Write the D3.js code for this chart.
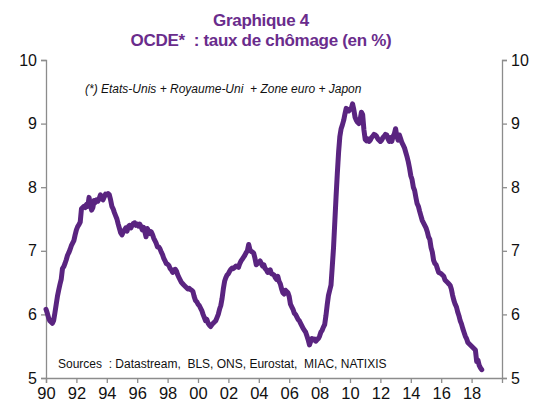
<!DOCTYPE html>
<html>
<head>
<meta charset="utf-8">
<script src="https://cdn.jsdelivr.net/npm/d3@7"></script>
<style>
  body { margin: 0; background: #fff; }
  svg text { font-family: Arial, "Liberation Sans", sans-serif; }
</style>
</head>
<body>
<svg id="chart" width="538" height="405"></svg>
<script>
// monthly OECD unemployment rate (%), Jan 1990 -> Sep 2018
var startYear = 1990;
var rate = [
  6.08, 6.02, 5.95, 5.90, 5.88, 5.86, 5.90, 6.02, 6.15, 6.28, 6.38, 6.47, // 1990
  6.55, 6.72, 6.75, 6.80, 6.86, 6.93, 6.97, 7.02, 7.08, 7.12, 7.16, 7.25, // 1991
  7.33, 7.38, 7.41, 7.45, 7.66, 7.68, 7.70, 7.68, 7.73, 7.70, 7.84, 7.72, // 1992
  7.64, 7.68, 7.79, 7.76, 7.80, 7.78, 7.82, 7.88, 7.84, 7.80, 7.85, 7.89, // 1993
  7.88, 7.90, 7.88, 7.80, 7.70, 7.66, 7.60, 7.55, 7.50, 7.42, 7.35, 7.28, // 1994
  7.25, 7.30, 7.33, 7.36, 7.31, 7.38, 7.40, 7.36, 7.40, 7.43, 7.44, 7.40, // 1995
  7.42, 7.39, 7.42, 7.38, 7.33, 7.37, 7.30, 7.22, 7.35, 7.31, 7.27, 7.30, // 1996
  7.26, 7.20, 7.16, 7.12, 7.06, 7.06, 7.03, 6.98, 6.94, 6.88, 6.84, 6.80, // 1997
  6.79, 6.77, 6.72, 6.70, 6.66, 6.70, 6.71, 6.68, 6.62, 6.58, 6.54, 6.50, // 1998
  6.48, 6.46, 6.44, 6.42, 6.40, 6.41, 6.39, 6.38, 6.36, 6.28, 6.22, 6.20, // 1999
  6.16, 6.14, 6.10, 6.06, 6.00, 5.95, 5.90, 5.92, 5.86, 5.83, 5.81, 5.84, // 2000
  5.86, 5.88, 5.90, 5.95, 6.00, 6.08, 6.14, 6.25, 6.40, 6.52, 6.58, 6.62, // 2001
  6.64, 6.68, 6.71, 6.73, 6.72, 6.74, 6.76, 6.75, 6.74, 6.80, 6.84, 6.87, // 2002
  6.90, 6.93, 6.97, 7.00, 7.10, 7.02, 6.99, 6.98, 6.96, 6.88, 6.78, 6.80, // 2003
  6.82, 6.84, 6.80, 6.76, 6.78, 6.72, 6.70, 6.66, 6.68, 6.70, 6.64, 6.63, // 2004
  6.62, 6.58, 6.55, 6.60, 6.52, 6.48, 6.40, 6.34, 6.32, 6.38, 6.36, 6.34, // 2005
  6.28, 6.16, 6.12, 6.08, 6.02, 6.00, 5.96, 5.92, 5.90, 5.86, 5.82, 5.78, // 2006
  5.75, 5.72, 5.66, 5.60, 5.52, 5.58, 5.62, 5.60, 5.61, 5.58, 5.60, 5.62, // 2007
  5.66, 5.72, 5.75, 5.80, 5.84, 5.98, 6.15, 6.30, 6.38, 6.46, 6.75, 7.05, // 2008
  7.45, 7.85, 8.22, 8.55, 8.80, 8.92, 8.98, 9.05, 9.15, 9.24, 9.22, 9.20, // 2009
  9.22, 9.24, 9.31, 9.22, 9.10, 9.05, 9.02, 9.00, 9.06, 9.18, 9.14, 8.90, // 2010
  8.75, 8.73, 8.76, 8.72, 8.74, 8.78, 8.80, 8.83, 8.82, 8.80, 8.76, 8.74, // 2011
  8.72, 8.74, 8.78, 8.80, 8.83, 8.82, 8.76, 8.72, 8.78, 8.72, 8.80, 8.84, // 2012
  8.92, 8.80, 8.74, 8.82, 8.76, 8.70, 8.66, 8.62, 8.55, 8.48, 8.40, 8.30, // 2013
  8.18, 8.12, 8.00, 7.95, 7.84, 7.74, 7.70, 7.62, 7.55, 7.48, 7.44, 7.40, // 2014
  7.36, 7.30, 7.22, 7.18, 7.05, 6.98, 6.85, 6.80, 6.78, 6.72, 6.66, 6.65, // 2015
  6.64, 6.62, 6.60, 6.54, 6.52, 6.50, 6.48, 6.46, 6.40, 6.30, 6.22, 6.16, // 2016
  6.12, 6.04, 5.98, 5.90, 5.85, 5.78, 5.72, 5.66, 5.62, 5.56, 5.54, 5.52, // 2017
  5.50, 5.48, 5.46, 5.44, 5.26, 5.28, 5.20, 5.16, 5.13                    // 2018
];
var yTicks = [5, 6, 7, 8, 9, 10];
var xTicks = [1990, 1992, 1994, 1996, 1998, 2000, 2002, 2004, 2006, 2008, 2010, 2012, 2014, 2016, 2018];

var titleLines = ["Graphique 4", "OCDE*  : taux de chômage (en %)"];
var noteText = "(*) Etats-Unis + Royaume-Uni  + Zone euro + Japon";
var sourceText = "Sources  : Datastream,  BLS, ONS, Eurostat,  MIAC, NATIXIS";

var svg = d3.select("#chart");
var mLeft = 46, mRight = 502, mTop = 60, mBottom = 378;
var purple = "#5a2480";
var axisCol = "#8c8c8c";

var x = d3.scaleLinear().domain([1990, 2020]).range([mLeft, mRight]);
var y = d3.scaleLinear().domain([5, 10]).range([mBottom, mTop]);

// title
svg.selectAll("text.title")
  .data(titleLines)
  .enter()
  .append("text")
  .attr("class", "title")
  .attr("x", 261)
  .attr("y", function(d, i) { return 26 + i * 20; })
  .attr("text-anchor", "middle")
  .attr("font-size", "17px")
  .attr("font-weight", "bold")
  .attr("letter-spacing", "-0.3px")
  .attr("fill", "#6a2c8c")
  .style("white-space", "pre")
  .text(function(d) { return d; });

// axes
var gl = svg.append("g").attr("transform", "translate(" + mLeft + ",0)")
  .call(d3.axisLeft(y).tickValues(yTicks).tickSize(5).tickPadding(4).tickFormat(d3.format("d")));
var gr = svg.append("g").attr("transform", "translate(" + mRight + ",0)")
  .call(d3.axisRight(y).tickValues(yTicks).tickSize(5).tickPadding(4).tickFormat(d3.format("d")));
var gb = svg.append("g").attr("transform", "translate(0," + mBottom + ")")
  .call(d3.axisBottom(x).tickValues(xTicks).tickSize(5).tickPadding(4)
    .tickFormat(function(d) { return String(d % 100).padStart(2, "0"); }));

[gl, gr, gb].forEach(function(g) {
  g.select(".domain").attr("stroke", axisCol).attr("stroke-width", 1.3);
  g.selectAll(".tick line").attr("stroke", axisCol).attr("stroke-width", 1.3);
  g.selectAll(".tick text").attr("fill", "#111").attr("font-family", "Arial, 'Liberation Sans', sans-serif");
});
gl.selectAll(".tick text").attr("font-size", "16px");
gr.selectAll(".tick text").attr("font-size", "16px");
gb.selectAll(".tick text").attr("font-size", "16.5px");

// annotations
svg.append("text")
  .attr("x", 85).attr("y", 93)
  .attr("font-size", "12px")
  .attr("font-style", "italic")
  .attr("fill", "#111")
  .style("white-space", "pre")
  .text(noteText);

svg.append("text")
  .attr("x", 58).attr("y", 368)
  .attr("font-size", "12px")
  .attr("fill", "#111")
  .style("white-space", "pre")
  .text(sourceText);

// series
var line = d3.line()
  .x(function(d, i) { return x(startYear + i / 12); })
  .y(function(d) { return y(d); });

svg.append("path")
  .datum(rate)
  .attr("d", line)
  .attr("fill", "none")
  .attr("stroke", purple)
  .attr("stroke-width", 5)
  .attr("stroke-linejoin", "round")
  .attr("stroke-linecap", "round");
</script>
</body>
</html>
